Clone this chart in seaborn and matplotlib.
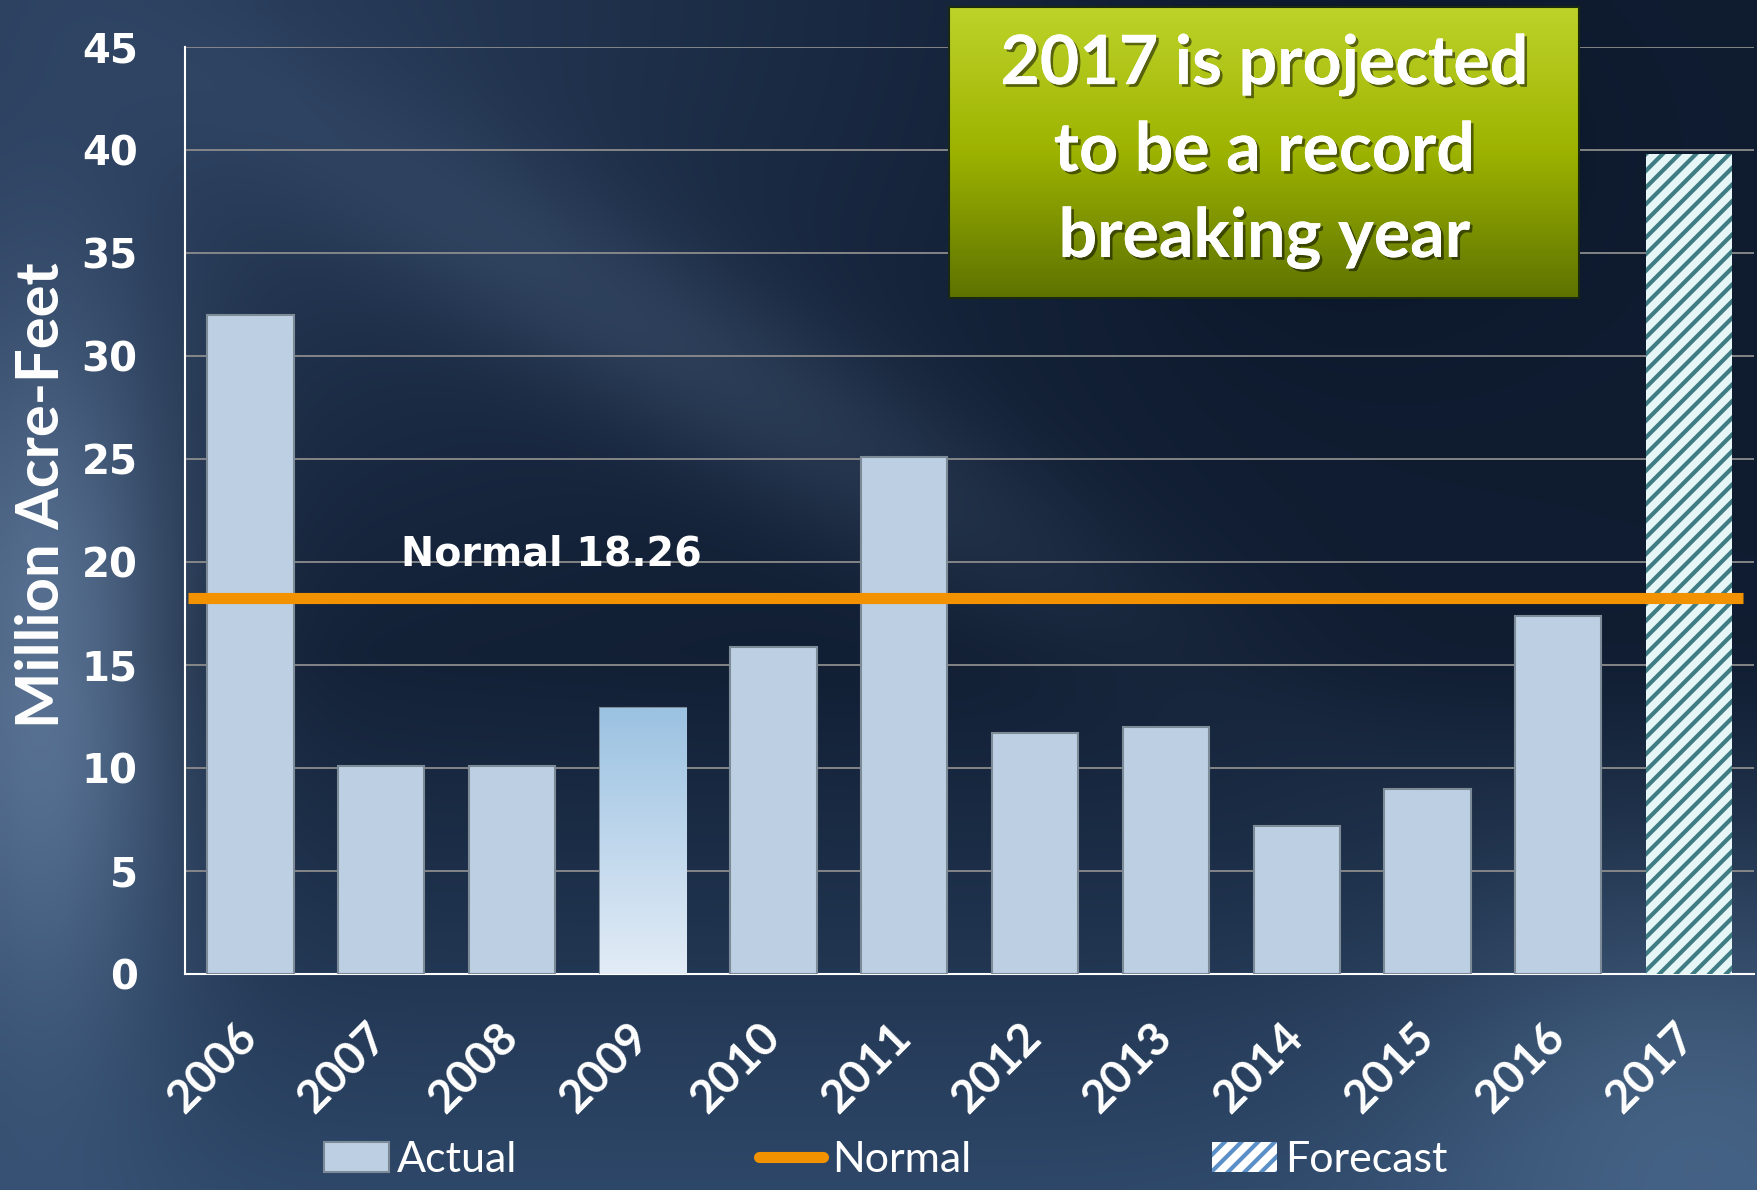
import numpy as np
import matplotlib.pyplot as plt
import matplotlib.patches as mpatches
import matplotlib.lines as mlines
import matplotlib.patheffects as pe
import matplotlib.transforms as mtransforms
from matplotlib.colors import LinearSegmentedColormap
import seaborn as sns

years = ['2006', '2007', '2008', '2009', '2010', '2011',
         '2012', '2013', '2014', '2015', '2016', '2017']
volumes = [32.0, 10.1, 10.1, 12.9, 15.9, 25.1, 11.7, 12.0, 7.2, 9.0, 17.4, 39.8]
normal = 18.26
highlight_year = '2009'
forecast_year = '2017'
yticks = list(range(0, 50, 5))
legend_labels = ['Actual', 'Normal', 'Forecast']
box_text = '2017 is projected\nto be a record\nbreaking year'

sns.set_theme(style='white')
plt.rcParams['hatch.linewidth'] = 3.0

fig = plt.figure(figsize=(17.58, 11.90), dpi=100)

# dark blue backdrop
bg = fig.add_axes([0, 0, 1, 1], zorder=-10)
h, w = 119, 176
yy, xx = np.mgrid[0:1:h * 1j, 0:1:w * 1j]


def blob(cx, cy, sx, sy):
    return np.exp(-(((xx - cx) / sx) ** 2 + ((yy - cy) / sy) ** 2) / 2)[..., None]


img = np.ones((h, w, 3)) * np.array([0.06, 0.11, 0.19])
img = img + blob(0.02, 0.56, 0.06, 0.22) * np.array([0.26, 0.30, 0.34])
img = img + blob(0.0, 0.0, 0.35, 0.3) * np.array([0.10, 0.13, 0.17])
img = img + (np.clip(yy - 0.55, 0, None) / 0.45)[..., None] * np.array([0.12, 0.17, 0.22])
img = img + blob(0.97, 0.92, 0.12, 0.15) * np.array([0.10, 0.12, 0.13])
dist = ((xx - 0.16) * 0.43 - (yy - 0.09) * 0.48) / 0.644
streak = np.exp(-(dist / 0.05) ** 2 / 2)[..., None] * blob(0.4, 0.3, 0.25, 0.25)
img = img + streak * np.array([0.08, 0.09, 0.10])
img = img + blob(0.75, 0.12, 0.1, 0.12) * np.array([-0.03, -0.04, -0.05])
bg.imshow(np.clip(img, 0, 1), aspect='auto', extent=[0, 1, 0, 1],
          interpolation='bicubic')
bg.axis('off')

ax = fig.add_axes([0.1052, 0.1813, 0.8928, 0.7792])
ax.set_facecolor('none')

sns.barplot(x=years, y=volumes, color='#BDD0E3', saturation=1, width=0.66,
            edgecolor='#7D8B99', linewidth=1.5, ax=ax, zorder=3)

bars = ax.patches
# 2009 bar has a vertical gradient (darker blue at the top)
hb = bars[years.index(highlight_year)]
grad = np.linspace(0, 1, 100)[:, None]
gcmap = LinearSegmentedColormap.from_list('g', ['#9CC2E2', '#E2ECF6'])
gim = ax.imshow(grad, cmap=gcmap, aspect='auto', zorder=3.5,
                extent=[hb.get_x(), hb.get_x() + hb.get_width(), 0, hb.get_height()])
gim.set_clip_path(hb)
# 2017 forecast bar hatched
fb = bars[years.index(forecast_year)]
fb.set_facecolor('#E6F6F6')
fb.set_edgecolor('#3F7C84')
fb.set_hatch('//')
fb.set_linewidth(0)

ax.set_xlim(-0.5, 11.5)
ax.set_ylim(0, 45)
ax.set_yticks(yticks)
ax.yaxis.grid(True, color='#8C8C8C', lw=1.3)
ax.set_axisbelow(True)
for s in ['top', 'right']:
    ax.spines[s].set_visible(False)
for s in ['left', 'bottom']:
    ax.spines[s].set_color('white')
    ax.spines[s].set_linewidth(1.5)

ax.tick_params(axis='y', colors='white', length=12, width=1.5, pad=22)
for lbl in ax.get_yticklabels():
    lbl.set_fontfamily('DejaVu Sans')
    lbl.set_fontweight('bold')
    lbl.set_fontsize(29)

ax.set_xticks(range(len(years)))
ax.set_xticks(np.arange(-0.5, len(years), 1), minor=True)
ax.tick_params(axis='x', which='major', length=0, pad=30, colors='white')
ax.tick_params(axis='x', which='minor', length=12, width=1.5, colors='white')
ax.set_xticklabels(years, rotation=45, ha='right', rotation_mode='anchor',
                   fontfamily='Lato', fontweight='bold', fontsize=33)
shift = mtransforms.ScaledTranslation(-11 / 72, 0, fig.dpi_scale_trans)
for lbl in ax.get_xticklabels():
    lbl.set_transform(lbl.get_transform() + shift)

ax.set_xlabel('')
ax.set_ylabel('Million Acre-Feet', fontfamily='Lato', fontweight='bold',
              fontsize=43, color='white')
ax.yaxis.set_label_coords(-0.074, 0.517)

ax.hlines(normal, -0.48, 11.41, color='#F39200', lw=8, zorder=4)
ax.text(1.15, 20.35, f'Normal {normal}', color='white', fontfamily='DejaVu Sans',
        fontweight='bold', fontsize=28.5, ha='left', va='center', zorder=5)

# green callout box
box = fig.add_axes([0.540, 0.750, 0.358, 0.2445])
bcmap = LinearSegmentedColormap.from_list('b', ['#BED32A', '#9DB300', '#5F7400'])
box.imshow(grad, cmap=bcmap, aspect='auto', extent=[0, 1, 0, 1])
box.set_xticks([])
box.set_yticks([])
for s in box.spines.values():
    s.set_color('#1A2A10')
    s.set_linewidth(1.5)
box.text(0.5, 0.5, box_text, ha='center', va='center', color='white',
         fontfamily='Lato', fontweight='bold', fontsize=49, linespacing=1.45,
         path_effects=[pe.withSimplePatchShadow(offset=(2, -2), shadow_rgbFace='black', alpha=0.5),
                       pe.Normal()])

handles = [
    mpatches.Patch(facecolor='#BDD0E3', edgecolor='#7D8B99', linewidth=1.5),
    mlines.Line2D([], [], color='#F39200', lw=8),
    mpatches.Patch(facecolor='white', edgecolor='#5B8FC7', hatch='//', linewidth=0),
]
fig.legend(handles, legend_labels, loc='center', bbox_to_anchor=(0.504, 0.025),
           ncol=3, frameon=False, columnspacing=5.6, handletextpad=0.2,
           handlelength=1.5, labelcolor='white',
           prop={'family': 'Lato', 'size': 31})

fig.savefig('out.png', dpi=100)
